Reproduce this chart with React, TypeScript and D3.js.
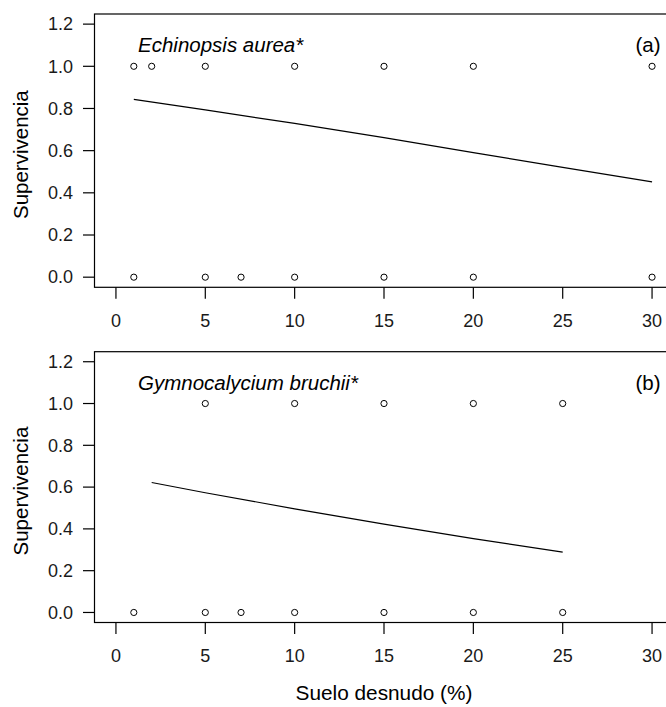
import React from "react";
import * as d3 from "d3";

// Panel (a) Echinopsis aurea
const aSurvX = [1, 2, 5, 10, 15, 20, 30];
const aDeadX = [1, 5, 7, 10, 15, 20, 30];
const aFitX = [1, 5, 10, 15, 20, 25, 30];
const aFitY = [0.843, 0.793, 0.729, 0.662, 0.591, 0.521, 0.452];

// Panel (b) Gymnocalycium bruchii
const bSurvX = [5, 10, 15, 20, 25];
const bDeadX = [1, 5, 7, 10, 15, 20, 25];
const bFitX = [2, 5, 10, 15, 20, 25];
const bFitY = [0.622, 0.573, 0.496, 0.423, 0.353, 0.289];

const xTicks = [0, 5, 10, 15, 20, 25, 30];
const yTicks = [0, 0.2, 0.4, 0.6, 0.8, 1.0, 1.2];

const FONT = "'Liberation Sans', Arial, Helvetica, sans-serif";

type PanelProps = {
  top: number;
  bottom: number;
  survX: number[];
  deadX: number[];
  fitX: number[];
  fitY: number[];
  title: string;
  tag: string;
};

const x = d3.scaleLinear().domain([-1.2, 31.2]).range([94.5, 673.5]);

function Panel({ top, bottom, survX, deadX, fitX, fitY, title, tag }: PanelProps) {
  const y = d3.scaleLinear().domain([-0.048, 1.248]).range([bottom, top]);
  const line = d3
    .line<[number, number]>()
    .x((d) => x(d[0]))
    .y((d) => y(d[1]));
  const fit: [number, number][] = fitX.map((v, i) => [v, fitY[i]]);
  const left = x.range()[0];
  const right = x.range()[1];
  return (
    <g>
      <rect
        x={left}
        y={top}
        width={right - left}
        height={bottom - top}
        fill="none"
        stroke="#000"
        strokeWidth={1.2}
      />
      {xTicks.map((t) => (
        <g key={"xt" + t}>
          <line x1={x(t)} x2={x(t)} y1={bottom} y2={bottom + 11.5} stroke="#000" strokeWidth={1.2} />
          <text
            x={x(t)}
            y={bottom + 39.5}
            textAnchor="middle"
            fontSize={18}
            fontFamily={FONT}
            fill="#1a1a1a"
          >
            {t}
          </text>
        </g>
      ))}
      {yTicks.map((t) => (
        <g key={"yt" + t}>
          <line x1={left - 11.5} x2={left} y1={y(t)} y2={y(t)} stroke="#000" strokeWidth={1.2} />
          <text
            x={73}
            y={y(t)}
            dy="0.35em"
            textAnchor="end"
            fontSize={18}
            fontFamily={FONT}
            fill="#1a1a1a"
          >
            {t.toFixed(1)}
          </text>
        </g>
      ))}
      <text
        transform={`translate(27.5, ${(top + bottom) / 2 + 4}) rotate(-90)`}
        textAnchor="middle"
        fontSize={20.5}
        fontFamily={FONT}
        fill="#000"
      >
        Supervivencia
      </text>
      <text x={138} y={top + 38} fontSize={20.5} fontStyle="italic" fontFamily={FONT} fill="#000">
        {title}
      </text>
      <text x={660.5} y={top + 38} textAnchor="end" fontSize={20.5} fontFamily={FONT} fill="#000">
        {tag}
      </text>
      <path d={line(fit) || ""} fill="none" stroke="#000" strokeWidth={1.2} />
      {survX.map((v, i) => (
        <circle key={"s" + i} cx={x(v)} cy={y(1)} r={3.1} fill="#fff" stroke="#000" strokeWidth={1} />
      ))}
      {deadX.map((v, i) => (
        <circle key={"d" + i} cx={x(v)} cy={y(0)} r={3.1} fill="#fff" stroke="#000" strokeWidth={1} />
      ))}
    </g>
  );
}

export default function App() {
  return (
    <svg
      width={666}
      height={707}
      style={{ position: "absolute", left: 0, top: 0, background: "#fff" }}
    >
      <rect x={0} y={0} width={666} height={707} fill="#fff" />
      <Panel
        top={14}
        bottom={287.3}
        survX={aSurvX}
        deadX={aDeadX}
        fitX={aFitX}
        fitY={aFitY}
        title="Echinopsis aurea*"
        tag="(a)"
      />
      <Panel
        top={351.7}
        bottom={622.5}
        survX={bSurvX}
        deadX={bDeadX}
        fitX={bFitX}
        fitY={bFitY}
        title="Gymnocalycium bruchii*"
        tag="(b)"
      />
      <text
        x={x(15)}
        y={700}
        textAnchor="middle"
        fontSize={20.8}
        fontFamily={FONT}
        fill="#000"
      >
        Suelo desnudo (%)
      </text>
    </svg>
  );
}
